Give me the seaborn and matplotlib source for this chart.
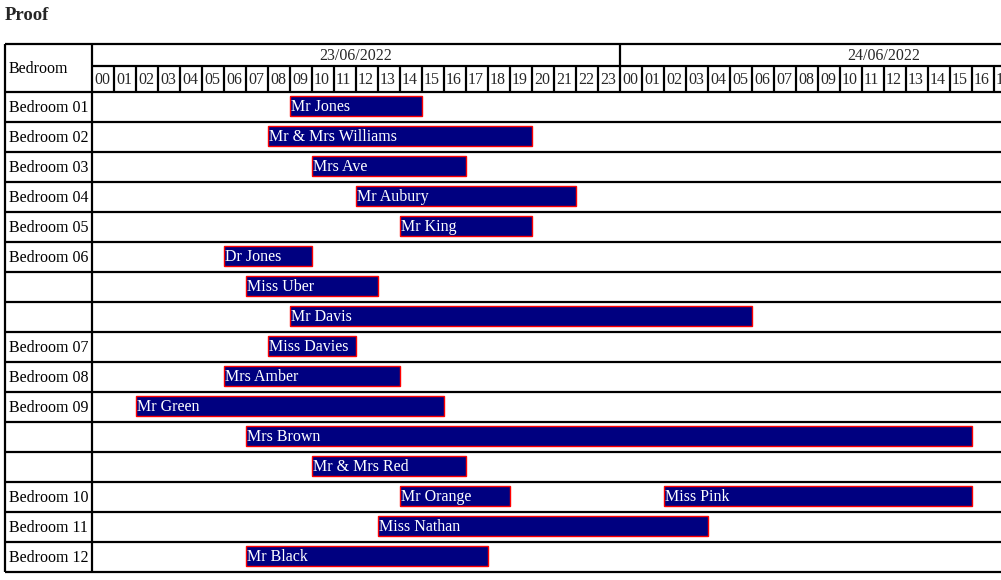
import matplotlib
matplotlib.use("Agg")
import matplotlib.pyplot as plt
import seaborn as sns
import pandas as pd

# ---- data ----
row_labels = ["Bedroom 01", "Bedroom 02", "Bedroom 03", "Bedroom 04", "Bedroom 05",
              "Bedroom 06", "", "", "Bedroom 07", "Bedroom 08", "Bedroom 09", "", "",
              "Bedroom 10", "Bedroom 11", "Bedroom 12"]
guests = ["Mr Jones", "Mr & Mrs Williams", "Mrs Ave", "Mr Aubury", "Mr King",
          "Dr Jones", "Miss Uber", "Mr Davis", "Miss Davies", "Mrs Amber",
          "Mr Green", "Mrs Brown", "Mr & Mrs Red", "Mr Orange", "Miss Pink",
          "Miss Nathan", "Mr Black"]
guest_rows = [0, 1, 2, 3, 4, 5, 6, 7, 8, 9, 10, 11, 12, 13, 13, 14, 15]
# hours counted from 23/06/2022 00:00
start_hours = [9, 8, 10, 12, 14, 6, 7, 9, 8, 6, 2, 7, 10, 14, 26, 13, 7]
end_hours = [15, 20, 17, 22, 20, 10, 13, 30, 12, 14, 16, 40, 17, 19, 40, 28, 18]
dates = ["23/06/2022", "24/06/2022"]
hour_labels = [f"{h:02d}" for h in range(24)]
title = "Proof"
header_label = "Bedroom"

df = pd.DataFrame({"guest": guests, "row": guest_rows,
                   "start": start_hours, "end": end_hours})

# ---- style ----
sns.set_theme(style="white")
plt.rcParams["font.family"] = ["Liberation Serif", "DejaVu Serif"]

W, H = 1001, 580
fig = plt.figure(figsize=(W / 100, H / 100), dpi=100)
px_per_hour = 22.0
ax_left, ax_right, ax_top, ax_bottom = 92, 1001, 92, 572
ax = fig.add_axes([ax_left / W, 1 - ax_bottom / H,
                   (ax_right - ax_left) / W, (ax_bottom - ax_top) / H])
xmax = (ax_right - ax_left) / px_per_hour
nrows = len(row_labels)
ax.set_xlim(0, xmax)
ax.set_ylim(nrows, 0)
ax.axis("off")

fs = 11.5
lw = 1.6
x_lab = (5 - ax_left) / px_per_hour
y_top = (44 - ax_top) / 30.0
y_mid = (66 - ax_top) / 30.0

# bars
ax.barh(df["row"] + 0.465, df["end"] - df["start"], left=df["start"], height=0.66,
        color="#000080", edgecolor="#ff0000", linewidth=1.0, zorder=3)
for _, r in df.iterrows():
    ax.text(r["start"] + 0.05, r["row"] + 0.5, r["guest"], color="white",
            fontsize=fs, va="center", ha="left", zorder=4)

# row labels
for i, lab in enumerate(row_labels):
    ax.text(x_lab + 0.18, i + 0.53, lab, fontsize=fs, va="center", ha="left",
            color="black", clip_on=False)

# grid lines of the table
kw = dict(color="black", linewidth=lw, clip_on=False, zorder=5)
ax.hlines(range(nrows + 1), x_lab, xmax, **kw)
ax.hlines([y_top], x_lab, xmax, **kw)
ax.hlines([y_mid], 0, xmax, **kw)
ax.vlines([x_lab, 0], y_top, nrows, **kw)
ax.vlines([24], y_top, y_mid, **kw)
ax.vlines(range(1, int(xmax) + 1), y_mid, 0, **kw)

# header texts
ax.text(x_lab + 0.18, (y_top + 0) / 2 + 0.03, header_label, fontsize=fs, va="center",
        ha="left", color="black", clip_on=False)
for d, lab in enumerate(dates):
    ax.text(24 * d + 12, (y_top + y_mid) / 2 + 0.05, lab, fontsize=fs, va="center",
            ha="center", clip_on=False)
for d in range(2):
    for h, lab in enumerate(hour_labels):
        x = 24 * d + h
        if x < xmax:
            ax.text(x + 0.09, y_mid / 2 + 0.05, lab, fontsize=fs, va="center",
                    ha="left", clip_on=False)

fig.text(5 / W, 1 - 15 / H, title, fontsize=13.5, fontweight="bold",
         va="center", ha="left")

fig.savefig("out.png", dpi=100)
